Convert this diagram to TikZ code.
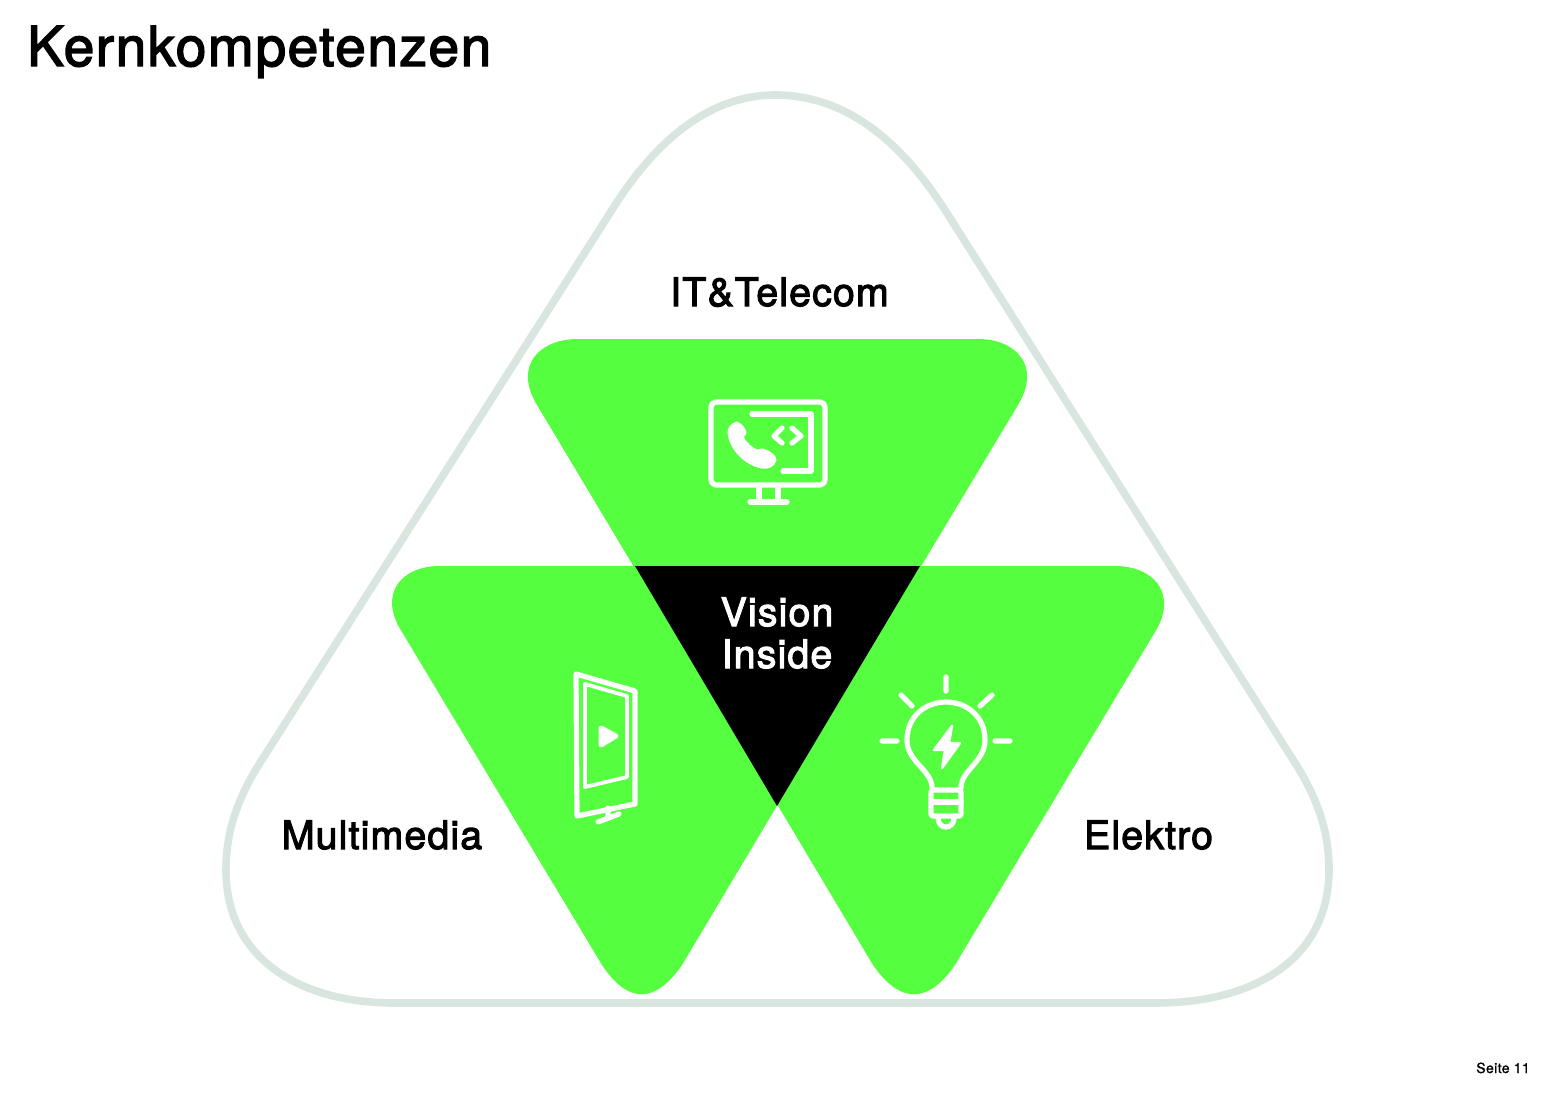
\documentclass[tikz,border=0pt]{standalone}
\usepackage{fontspec}
\setmainfont{TeX Gyre Heros}[FakeBold=2.6,LetterSpace=2.8]
\newfontfamily\pagefont{TeX Gyre Heros}[FakeBold=1,LetterSpace=2.8]
\definecolor{leaf}{HTML}{55FF40}
\definecolor{hull}{HTML}{D9E6E0}
\tikzset{
   label/.style={inner sep=0pt,font=\fontsize{39.4}{42}\selectfont,anchor=base},
   icon/.style={draw=white,line width=5.2pt,line cap=round,line join=round},
   iconfill/.style={fill=white,draw=white,line width=3pt,line join=round}
}
\begin{document}
\begin{tikzpicture}[x=1pt,y=-1pt]
   \useasboundingbox (0,0) rectangle (1556,1100);

   % outer hull
   \draw[hull,line width=7.6pt] (775,95) .. controls (710,95) and (655,140) .. (610,213)
      -- (265,755) .. controls (235,800) and (226,835) .. (226,870)
      .. controls (226,955) and (295,1003) .. (395,1003) -- (1155,1003)
      .. controls (1260,1003) and (1329,955) .. (1329,870)
      .. controls (1329,835) and (1320,800) .. (1290,755)
      -- (945,210) .. controls (900,140) and (845,95) .. (775,95) -- cycle;

   % the three green shapes
   \fill[leaf] (578,339) -- (978,339) .. controls (1015,339) and (1042,365) .. (1018,405)
      -- (777,806) -- (537,405) .. controls (513,365) and (540,339) .. (578,339) -- cycle;
   \fill[leaf] (440,566) -- (920,566) -- (682,965) .. controls (655,1004) and (628,1004) .. (602,965)
      -- (402,632) .. controls (378,595) and (400,566) .. (440,566) -- cycle;
   \fill[leaf] (635,566) -- (1115,566) .. controls (1155,566) and (1178,595) .. (1155,632)
      -- (955,965) .. controls (928,1004) and (900,1004) .. (873,965) -- cycle;
   \fill[black] (635,566) -- (920,566) -- (777,806) -- cycle;

   % monitor
   \draw[icon,rounded corners=5pt] (711,402) rectangle (825,485);
   \draw[icon] (752,414) -- (811,414) -- (811,471) -- (783,471);
   \draw[icon] (782,428) -- (774,436) -- (782,443);
   \draw[icon] (792,428) -- (801,436) -- (792,443);
   \draw[icon] (759,486) -- (759,501) (778,486) -- (778,501) (750,502) -- (787,502);
   \draw[iconfill] (737,423) .. controls (742,426) and (745,430) .. (745,433) -- (742,437)
      .. controls (745,443) and (751,449) .. (757,451) -- (763,450)
      .. controls (769,452) and (775,456) .. (775,460)
      .. controls (773,466) and (768,468) .. (762,467)
      .. controls (745,464) and (730,448) .. (729,432)
      .. controls (729,428) and (733,424) .. (737,423) -- cycle;

   % screen on a stand
   \draw[icon] (576,674) -- (635,691) -- (635,804) -- (577,816) -- cycle;
   \draw[icon,line width=3.8pt] (585,684) -- (627,696) -- (627,777) -- (585,787) -- cycle;
   \draw[icon] (608,808) -- (608,818) (598,822) -- (619,814);
   \draw[iconfill,line width=5pt] (601,728) -- (616,736) -- (601,745) -- cycle;

   % bulb
   \draw[icon] (946,677) -- (946,691) (901,695) -- (912,706) (992,695) -- (980,706)
      (882,741) -- (897,741) (995,741) -- (1010,741);
   \draw[icon] (932,788) .. controls (932,770) and (907,762) .. (907,740)
      .. controls (907,716) and (926,702) .. (946,702)
      .. controls (966,702) and (985,716) .. (985,740)
      .. controls (985,762) and (961,770) .. (961,788);
   \draw[icon,rounded corners=2pt] (931,790) -- (961,790) -- (961,816) -- (931,816) -- cycle;
   \draw[icon] (931,802) -- (961,802);
   \draw[icon] (938,818) .. controls (938,830) and (954,830) .. (954,818);
   \draw[iconfill,line width=2.4pt] (952,726) -- (934,750) -- (945,750) -- (942,768) -- (960,743) -- (949,743) -- cycle;

   % texts
   \node[inner sep=0pt,font=\fontsize{55}{60}\selectfont,anchor=base west] (title) at (27,66) {Kernkompetenzen};
   \node[label] (telecom) at (779.5,306) {IT\&Telecom};
   \node[label] (media) at (382,849) {Multimedia};
   \node[label] (elektro) at (1148.5,849) {Elektro};
   \node[label,text=white] (vision) at (777,626) {Vision};
   \node[label,text=white] (inside) at (777,668) {Inside};
   \node[inner sep=0pt,font=\pagefont\fontsize{14}{16}\selectfont,anchor=base east] (page) at (1530,1073) {Seite 11};
\end{tikzpicture}
\end{document}
